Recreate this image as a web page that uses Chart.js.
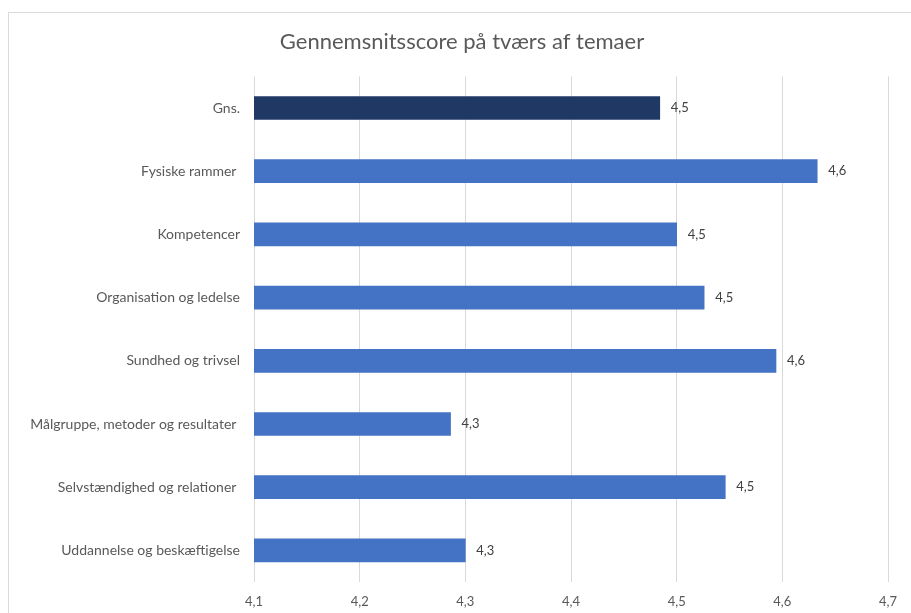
<!DOCTYPE html>
<html>
<head>
<meta charset="utf-8">
<script src="https://cdn.jsdelivr.net/npm/chart.js@4.4.0/dist/chart.umd.min.js"></script>
<style>
  html, body { margin: 0; padding: 0; background: #ffffff; overflow: hidden; }
  #frame { position: absolute; left: 8px; top: 12px; width: 1000px; height: 1000px; border: 1px solid #d9d9d9; box-sizing: border-box; }
  #wrap { position: absolute; left: 0; top: 0; width: 911px; height: 613px; }
</style>
</head>
<body>
<div id="frame"></div>
<div id="wrap"><canvas id="c" width="911" height="613"></canvas></div>
<script>
const categories = [
  "Gns.",
  "Fysiske rammer ",
  "Kompetencer",
  "Organisation og ledelse",
  "Sundhed og trivsel",
  "Målgruppe, metoder og resultater ",
  "Selvstændighed og relationer ",
  "Uddannelse og beskæftigelse"
];
const scores = [4.484, 4.633, 4.50, 4.526, 4.594, 4.286, 4.546, 4.30];
const barColors = ["#203864", "#4472C4", "#4472C4", "#4472C4", "#4472C4", "#4472C4", "#4472C4", "#4472C4"];
const xTicks = [4.1, 4.2, 4.3, 4.4, 4.5, 4.6, 4.7];
const chartTitle = "Gennemsnitsscore på tværs af temaer";

const FONT = "Lato, 'Open Sans', sans-serif";
const fmt = v => v.toFixed(1).replace('.', ',');

const valueLabels = {
  id: 'valueLabels',
  afterLayout(chart) {
    // let the long category labels use the space left of the axis box
    chart.scales.y.left = 0;
  },
  afterDatasetsDraw(chart) {
    const ctx = chart.ctx;
    const meta = chart.getDatasetMeta(0);
    ctx.save();
    ctx.font = "13px " + FONT;
    ctx.fillStyle = "#404040";
    ctx.textAlign = "left";
    ctx.textBaseline = "middle";
    meta.data.forEach((bar, i) => {
      ctx.fillText(fmt(scores[i]), bar.x + 11, bar.y);
    });
    ctx.restore();
  }
};

new Chart(document.getElementById('c'), {
  type: 'bar',
  data: {
    labels: categories,
    datasets: [{
      data: scores,
      backgroundColor: barColors,
      borderWidth: 0,
      barThickness: 23
    }]
  },
  options: {
    indexAxis: 'y',
    responsive: false,
    animation: false,
    layout: { padding: { left: 36, right: 23, top: 0, bottom: 0 } },
    plugins: {
      legend: { display: false },
      tooltip: { enabled: false },
      title: {
        display: true,
        text: chartTitle,
        color: "#595959",
        font: { family: FONT, size: 22, weight: 'normal', lineHeight: 1.2 },
        padding: { top: 29, bottom: 21 }
      }
    },
    scales: {
      x: {
        type: 'linear',
        min: 4.1,
        max: 4.7,
        afterBuildTicks(scale) { scale.ticks = xTicks.map(v => ({ value: v })); },
        afterFit(scale) { scale.height = 31; },
        ticks: {
          color: "#595959",
          font: { family: FONT, size: 13 },
          padding: 12,
          callback: v => fmt(v)
        },
        grid: { color: "#d9d9d9", drawTicks: false },
        border: { display: false }
      },
      y: {
        afterFit(scale) { scale.width = 218; },
        ticks: {
          color: "#595959",
          font: { family: FONT, size: 14 },
          padding: 14
        },
        grid: { display: false, drawTicks: false },
        border: { display: false }
      }
    }
  },
  plugins: [valueLabels]
});
</script>
</body>
</html>
